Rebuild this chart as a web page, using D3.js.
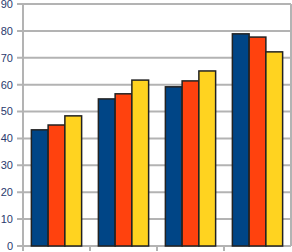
<!DOCTYPE html>
<html>
<head>
<meta charset="utf-8">
<title>Bar chart</title>
<script src="https://d3js.org/d3.v7.min.js"></script>
<style>
  body { margin: 0; background: #fff; }
  text { font-family: "Liberation Sans", Arial, sans-serif; }
</style>
</head>
<body>
<script>
var categories = ["A", "B", "C", "D"];
var seriesNames = ["s1", "s2", "s3"];
var series1 = [43.2, 54.7, 59.2, 78.9];
var series2 = [45.0, 56.6, 61.4, 77.7];
var series3 = [48.4, 61.7, 65.1, 72.2];
var yTicks = [0, 10, 20, 30, 40, 50, 60, 70, 80, 90];
var colors = ["#004586", "#ff420e", "#ffd320"];

var w = 292, h = 252;
var plotLeft = 23, plotRight = 291, plotTop = 4, plotBottom = 246;

var svg = d3.select("body").append("svg")
  .attr("width", w).attr("height", h);

var y = d3.scaleLinear().domain([0, 90]).range([plotBottom, plotTop]);
var x = d3.scaleBand().domain(categories).range([plotLeft, plotRight])
  .paddingInner(0.25).paddingOuter(0.125);
var xs = d3.scaleBand().domain(seriesNames).range([0, x.bandwidth()]);

// grid lines
svg.selectAll("line.grid").data(yTicks).enter().append("line")
  .attr("x1", plotLeft - 6).attr("x2", plotRight)
  .attr("y1", function(d) { return y(d); })
  .attr("y2", function(d) { return y(d); })
  .attr("stroke", "#b3b3b3").attr("stroke-width", 2);

// right border
svg.append("line").attr("x1", plotRight).attr("x2", plotRight)
  .attr("y1", plotTop).attr("y2", plotBottom)
  .attr("stroke", "#b3b3b3").attr("stroke-width", 2);

// y axis line
svg.append("line").attr("x1", plotLeft).attr("x2", plotLeft)
  .attr("y1", plotTop).attr("y2", plotBottom + 5)
  .attr("stroke", "#b3b3b3").attr("stroke-width", 2);

// x ticks at category boundaries
var step = x.step();
svg.selectAll("line.xt").data(categories.slice(1)).enter().append("line")
  .attr("x1", function(d) { return x(d) - step * 0.125; })
  .attr("x2", function(d) { return x(d) - step * 0.125; })
  .attr("y1", plotBottom).attr("y2", plotBottom + 5)
  .attr("stroke", "#b3b3b3").attr("stroke-width", 2);

// tick labels
svg.selectAll("text.yl").data(yTicks).enter().append("text")
  .attr("x", 13)
  .attr("y", function(d) { return y(d); })
  .attr("dy", "0.35em")
  .attr("text-anchor", "end")
  .attr("font-size", "11px")
  .attr("fill", "#2a3a6e")
  .text(function(d) { return d; });

// bars
var data = [];
categories.forEach(function(c, i) {
  data.push({ c: c, s: "s1", v: series1[i], col: colors[0] });
  data.push({ c: c, s: "s2", v: series2[i], col: colors[1] });
  data.push({ c: c, s: "s3", v: series3[i], col: colors[2] });
});

svg.selectAll("rect.bar").data(data).enter().append("rect")
  .attr("x", function(d) { return x(d.c) + xs(d.s); })
  .attr("y", function(d) { return y(d.v); })
  .attr("width", xs.bandwidth())
  .attr("height", function(d) { return plotBottom - y(d.v); })
  .attr("fill", function(d) { return d.col; })
  .attr("stroke", "#222")
  .attr("stroke-width", 1.5);
</script>
</body>
</html>
